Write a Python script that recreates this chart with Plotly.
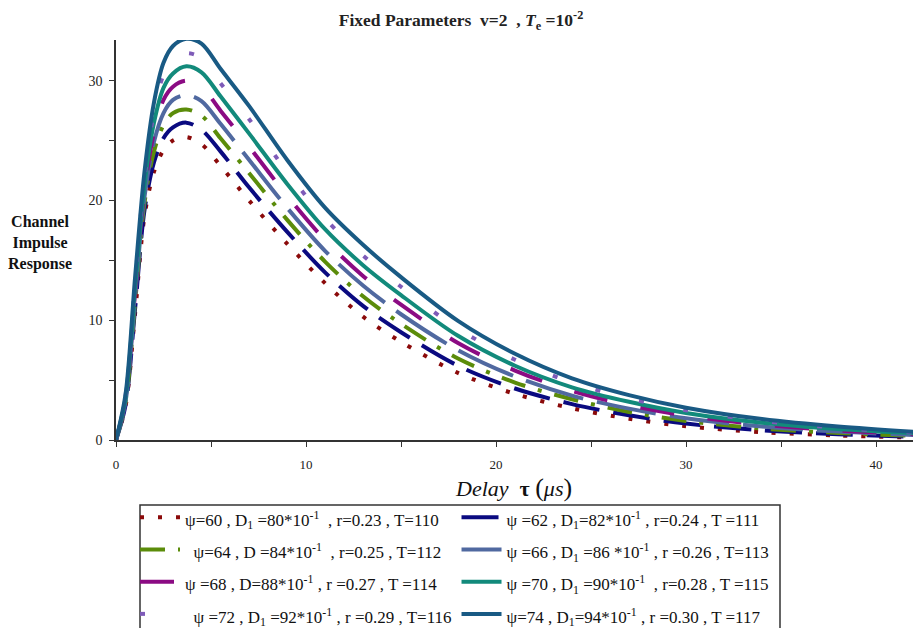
import plotly.graph_objects as go

# Delay grid (µs)
tau = [0, 0.5, 1, 1.5, 2, 2.5, 3, 3.7, 4.5, 5.5, 7, 9, 11, 13, 15, 18, 21, 24, 27, 30, 34, 38, 42]

# Channel impulse response
h60 = [0, 2.8, 10.5, 18.7, 22.4, 24.2, 25.0, 25.3, 24.7, 22.9, 20.0, 16.4, 13.1, 10.3, 8.2, 5.6, 3.85, 2.65, 1.78, 1.15, 0.65, 0.38, 0.20]
h62 = [0, 2.9, 10.9, 19.2, 23.2, 25.2, 26.1, 26.5, 25.9, 24.1, 21.1, 17.4, 14.0, 11.2, 9.0, 6.2, 4.3, 3.0, 2.06, 1.37, 0.81, 0.49, 0.27]
h64 = [0, 3.1, 11.4, 19.8, 24.1, 26.3, 27.3, 27.6, 27.1, 25.2, 22.3, 18.4, 14.9, 12.0, 9.7, 6.8, 4.8, 3.4, 2.34, 1.59, 0.96, 0.59, 0.34]
h66 = [0, 3.2, 11.8, 20.3, 24.9, 27.3, 28.4, 28.8, 28.3, 26.4, 23.4, 19.4, 15.8, 12.9, 10.5, 7.5, 5.3, 3.7, 2.62, 1.81, 1.12, 0.70, 0.41]
h68 = [0, 3.4, 12.2, 20.8, 25.7, 28.4, 29.5, 30.0, 29.5, 27.5, 24.5, 20.4, 16.7, 13.7, 11.3, 8.1, 5.8, 4.1, 2.90, 2.03, 1.28, 0.80, 0.48]
h70 = [0, 3.5, 12.6, 21.3, 26.5, 29.4, 30.6, 31.2, 30.7, 28.7, 25.6, 21.4, 17.6, 14.6, 12.1, 8.7, 6.2, 4.4, 3.19, 2.26, 1.44, 0.91, 0.55]
h72 = [0, 3.7, 13.1, 21.9, 27.4, 30.5, 31.8, 32.3, 31.9, 29.8, 26.8, 22.4, 18.5, 15.4, 12.8, 9.3, 6.7, 4.8, 3.47, 2.48, 1.59, 1.02, 0.61]
h74 = [0, 3.8, 13.5, 22.4, 28.2, 31.5, 32.9, 33.5, 33.1, 31.0, 27.9, 23.4, 19.4, 16.3, 13.6, 9.95, 7.2, 5.15, 3.75, 2.70, 1.75, 1.12, 0.68]

labels = [
    "ψ=60 , D<sub>1</sub> =80*10<sup>-1</sup>&nbsp; , r=0.23 , T=110",
    "ψ =62 , D<sub>1</sub>=82*10<sup>-1</sup> , r=0.24 , T =111",
    "&nbsp;&nbsp;ψ=64 , D =84*10<sup>-1</sup>&nbsp; , r=0.25 , T=112",
    "ψ =66 , D<sub>1</sub> =86 *10<sup>-1</sup> , r =0.26 , T=113",
    "ψ =68 , D=88*10<sup>-1</sup> , r =0.27 , T =114",
    "ψ =70 , D<sub>1</sub> =90*10<sup>-1</sup>&nbsp; , r=0.28 , T =115",
    "&nbsp;&nbsp;ψ =72 , D<sub>1</sub> =92*10<sup>-1</sup> , r =0.29 , T=116",
    "ψ=74 , D<sub>1</sub>=94*10<sup>-1</sup> , r =0.30 , T =117",
]
series = [h60, h62, h64, h66, h68, h70, h72, h74]
colors = ["#8B0A0A", "#0A0A80", "#5B8C0A", "#5069A0", "#8B0B83", "#128A7B", "#7E5BB8", "#195A84"]
dashes = ["4px,14px", "37px,14px", "25px,13px,4px,13px", "60px,14px", "34px,34px", "solid", "5px,40px", "solid"]

fig = go.Figure()
for y, lab, c, d in zip(series, labels, colors, dashes):
    fig.add_trace(go.Scatter(
        x=tau, y=y, mode="lines", name='<span style="font-size:17px">' + lab + "</span>",
        line=dict(color=c, width=4, dash=d, shape="spline", smoothing=0.9),
    ))

# page body has an 8px margin: screen = figure + 8
W, H = 913, 620
L, R, T, B = 108, 7, 32, 188
PW, PH = W - L - R, H - T - B


def px(sx):
    return (sx - 116) / PW


def py(sy):
    return (440 - sy) / PH


serif = "Liberation Serif"
fig.update_layout(
    width=W, height=H,
    margin=dict(l=L, r=R, t=T, b=B, autoexpand=False),
    paper_bgcolor="white", plot_bgcolor="white",
    font=dict(family=serif, color="#222", size=13),
    title=dict(
        text="<b>Fixed Parameters&nbsp; v=2&nbsp; , <i>T</i><sub>e</sub> =10<sup>-2</sup></b>",
        x=(461 - 8) / W, xref="container", xanchor="center",
        y=1 - (20 - 8) / H, yref="container", yanchor="middle",
        font=dict(family=serif, size=17.5, color="#222"),
    ),
    showlegend=True,
    legend=dict(
        orientation="h", x=px(135), xanchor="left", y=py(496), yanchor="top",
        bgcolor="rgba(0,0,0,0)", borderwidth=0, itemwidth=40,
        font=dict(family=serif, size=22.5, color="#111"),
    ),
    shapes=[dict(
        type="rect", xref="paper", yref="paper",
        x0=px(140), x1=px(780), y0=py(505), y1=py(720),
        line=dict(color="#333", width=1.5), fillcolor="white", layer="below",
    )],
)
fig.update_xaxes(
    range=[0, 42], showgrid=False, zeroline=False,
    showline=True, linecolor="#333", linewidth=1.5,
    ticks="outside", ticklen=5, tickcolor="#333", dtick=10, tick0=0,
    minor=dict(ticks="outside", ticklen=5, dtick=5, tickcolor="#333"),
    tickfont=dict(family=serif, size=13, color="#222"),
    ticklabelstandoff=7,
)
fig.update_yaxes(
    range=[0, 33.4], showgrid=False, zeroline=False,
    showline=True, linecolor="#333", linewidth=1.5,
    ticks="outside", ticklen=5, tickcolor="#333", dtick=10, tick0=0,
    minor=dict(ticks="outside", ticklen=5, dtick=5, tickcolor="#333"),
    tickfont=dict(family=serif, size=14, color="#222"),
    ticklabelstandoff=4,
)
fig.add_annotation(
    text="<b>Channel<br>Impulse<br>Response</b>",
    xref="paper", yref="paper", x=px(40), y=py(243),
    xanchor="center", yanchor="middle", showarrow=False, align="center",
    font=dict(family=serif, size=16, color="#111"),
)
fig.add_annotation(
    text='<i>Delay</i>&nbsp; <b>τ</b> <span style="font-size:26px">(</span><i>μs</i><span style="font-size:26px">)</span>',
    xref="paper", yref="paper", x=px(513), y=py(487),
    xanchor="center", yanchor="middle", showarrow=False,
    font=dict(family=serif, size=22, color="#111"),
)
fig.write_html("out.html")
